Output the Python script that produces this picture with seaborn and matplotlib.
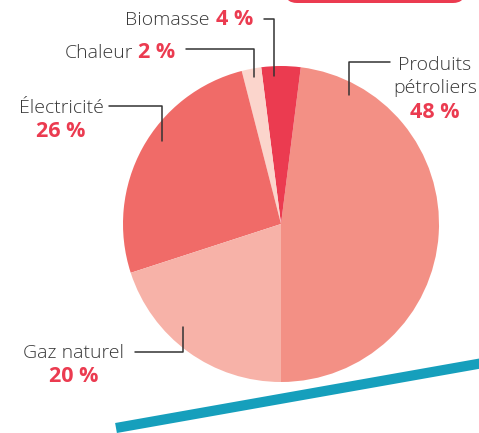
import matplotlib
matplotlib.use("Agg")
import matplotlib.pyplot as plt
from matplotlib.patches import FancyBboxPatch
import seaborn as sns

# Data (counterclockwise from 6 o'clock)
categories = ["Produits pétroliers", "Biomasse", "Chaleur", "Électricité", "Gaz naturel"]
shares = [48, 4, 2, 26, 20]
slice_colors = ["#F39085", "#EB3B50", "#FBD5CC", "#F06B68", "#F7B2A8"]

sns.set_theme(style="white")
plt.rcParams["font.family"] = ["Open Sans", "DejaVu Sans"]

W, H = 479, 433
fig = plt.figure(figsize=(W / 100, H / 100), dpi=100)
ax = fig.add_axes([0, 0, 1, 1])


def Y(y):
    # pixel row (from top) -> data y
    return H - y


ax.pie(shares, colors=slice_colors, startangle=-90, counterclock=True,
       center=(281, Y(224)), radius=158, frame=True,
       wedgeprops=dict(linewidth=0))
ax.set_xlim(0, W)
ax.set_ylim(0, H)
ax.set_aspect("equal")
ax.axis("off")

# decorative banner and teal stroke
ax.add_patch(FancyBboxPatch((285, Y(3)), 180, 30, boxstyle="round,pad=0,rounding_size=12",
                            facecolor="#EB3B50", edgecolor="none"))
ax.plot([116, 500], [Y(428), Y(360)], color="#169FBC", linewidth=7.3, solid_capstyle="butt")

grey = "#383838"
red = "#EB3B50"
lab = dict(color=grey, fontsize=14, fontweight="light", va="baseline")
pct = dict(color=red, fontsize=15.5, fontweight="bold", va="baseline")
line = dict(color="#333333", linewidth=1.1)

# Biomasse
ax.text(210, Y(25), categories[1], ha="right", **lab)
ax.text(216, Y(25), f"{shares[1]} %", ha="left", **pct)
ax.plot([264, 274, 274], [Y(19), Y(19), Y(76)], **line)

# Chaleur
ax.text(133, Y(58), categories[2], ha="right", **lab)
ax.text(138, Y(58), f"{shares[2]} %", ha="left", **pct)
ax.plot([186, 254, 254], [Y(49), Y(49), Y(77)], **line)

# Électricité
ax.text(61, Y(113), categories[3], ha="center", **lab)
ax.text(61, Y(137), f"{shares[3]} %", ha="center", **pct)
ax.plot([109, 162, 162], [Y(106), Y(106), Y(141)], **line)

# Gaz naturel
ax.text(74, Y(358), categories[4], ha="center", **lab)
ax.text(74, Y(382), f"{shares[4]} %", ha="center", **pct)
ax.plot([135, 183, 183], [Y(352), Y(352), Y(327)], **line)

# Produits pétroliers
ax.text(435, Y(70), "Produits", ha="center", **lab)
ax.text(435, Y(93), "pétroliers", ha="center", **lab)
ax.text(435, Y(118), f"{shares[0]} %", ha="center", **pct)
ax.plot([390, 349, 349], [Y(62), Y(62), Y(95)], **line)

fig.savefig("out.png", dpi=100)
